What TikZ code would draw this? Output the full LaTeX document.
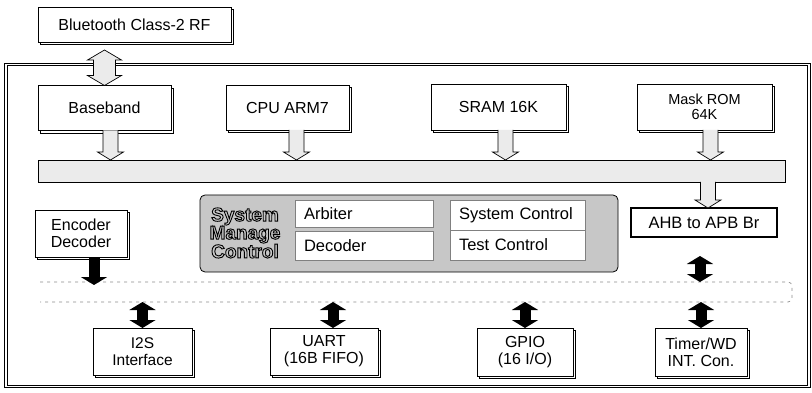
\documentclass[tikz,border=0pt]{standalone}
\usepackage{fontspec}
\setmainfont{Liberation Sans}
\usetikzlibrary{calc,shadows,arrows.meta}

\newcommand{\hollowdown}[2]{%
  \draw[hollow] let \p1=(#1), \p2=(#2) in
    (\x1-7.5pt,\y1) -- (\x1-7.5pt,\y2+8pt) -- (\x1-13pt,\y2+8pt) -- (\x1,\y2)
    -- (\x1+13pt,\y2+8pt) -- (\x1+7.5pt,\y2+8pt) -- (\x1+7.5pt,\y1);}
\newcommand{\hollowboth}[2]{%
  \draw[hollow] let \p1=(#1), \p2=(#2) in
    (\x1,\y1) -- (\x1+17pt,\y1-10pt) -- (\x1+11pt,\y1-10pt) -- (\x1+11pt,\y2+10pt)
    -- (\x1+17pt,\y2+10pt) -- (\x1,\y2) -- (\x1-17pt,\y2+10pt) -- (\x1-11pt,\y2+10pt)
    -- (\x1-11pt,\y1-10pt) -- (\x1-17pt,\y1-10pt) -- cycle;}
\newcommand{\outlinetext}[1]{\special{pdf:literal direct 1 Tr 0.9 w}#1\special{pdf:literal direct 0 Tr}}

\begin{document}
\begin{tikzpicture}[x=1pt, y=-1pt, outer sep=0pt]
  \tikzstyle{block}=[
    draw,
    rectangle,
    line width=0.9pt,
    fill=white,
    align=center,
    inner sep=2pt,
    font=\fontsize{16}{17}\selectfont,
    copy shadow={shadow xshift=2.5pt, shadow yshift=-2.5pt}
  ]
  \tikzstyle{cell}=[draw=black!50, fill=white, inner xsep=9pt, align=left, font=\fontsize{16.5}{17}\selectfont]
  \tikzstyle{hollow}=[draw, fill=black!8, line width=0.7pt]
  \tikzstyle{sarrow}=[line width=11pt, {Triangle[width=26pt,length=8pt]}-{Triangle[width=26pt,length=8pt]}]
  \tikzstyle{sdown}=[line width=11pt, -{Triangle[width=26pt,length=8pt]}]
  \tikzstyle{apbline}=[draw=black!45, dash pattern=on 3pt off 4pt, line width=0.7pt, rounded corners=4pt]

  \useasboundingbox (0,0) rectangle (812,393);

  \node[block, minimum width=193, minimum height=35] (bt) at (134.5,24.5) {Bluetooth Class-2 RF};
  \node[draw, double, double distance=1.6pt, line width=0.8pt, minimum width=803, minimum height=322] (chip) at (407.5,225.5) {};

  \node[block, minimum width=133, minimum height=45] (bb) at (104.5,108) {Baseband};
  \node[block, minimum width=123, minimum height=45] (cpu) at (287.5,107.5) {CPU ARM7};
  \node[block, minimum width=135, minimum height=46] (sram) at (498.5,107) {SRAM 16K};
  \node[block, minimum width=135, minimum height=46, font=\fontsize{14.5}{15}\selectfont] (rom) at (704.5,107) {Mask ROM\\64K};

  \node[draw, line width=0.8pt, fill=black!8, minimum width=747, minimum height=22] (mainbus) at (411.5,171) {};

  \node[draw, line width=0.8pt, rounded corners=5pt, fill=black!22, minimum width=418, minimum height=77] (smc) at (409,233.5) {};
  \node[cell, text width=120, minimum height=27] (arb) at (364,213.5) {Arbiter};
  \node[cell, text width=120, minimum height=29] (dec) at (364,245.5) {Decoder};
  \node[cell, text width=117, minimum height=30] (sysc) at (517.5,215) {System Control};
  \node[cell, text width=117, minimum height=30] (testc) at (517.5,245) {Test Control};
  \node[align=center, font=\fontsize{19}{15.5}\selectfont\bfseries] (smclabel) at (245,233) {\outlinetext{System\\Manage\\Control}};

  \node[draw, line width=2.6pt, fill=white, minimum width=146, minimum height=29, font=\fontsize{16.5}{17}\selectfont] (ahb) at (704,222.5) {AHB to APB Br};
  \node[block, minimum width=92, minimum height=47] (enc) at (81,233.5) {Encoder\\Decoder};

  \node[minimum width=752, minimum height=20] (apb) at (416,292) {};
  \draw[apbline] (apb.north west) -- (apb.north east) -- (apb.south east) -- (apb.south west);

  \node[block, minimum width=99, minimum height=47, font=\fontsize{15.5}{17}\selectfont] (i2s) at (142.5,351.5) {I2S\\Interface};
  \node[block, minimum width=108, minimum height=47] (uart) at (324,351.5) {UART\\(16B FIFO)};
  \node[block, minimum width=96, minimum height=48] (gpio) at (525,352) {GPIO\\(16 I/O)};
  \node[block, minimum width=92, minimum height=48] (timer) at (701,352) {Timer/WD\\INT. Con.};

  \hollowboth{[yshift=-8pt]bb.north |- bt.south}{bb.north}
  \hollowdown{[xshift=6pt]bb.south}{mainbus.north}
  \hollowdown{[xshift=9pt]cpu.south}{mainbus.north}
  \hollowdown{[xshift=7pt]sram.south}{mainbus.north}
  \hollowdown{[xshift=6pt]rom.south}{mainbus.north}
  \hollowdown{[xshift=4pt]ahb.north |- mainbus.south}{ahb.north}

  \draw[sdown] ([xshift=13pt]enc.south) -- ([xshift=13pt,yshift=-3pt]enc.south |- apb.north);
  \draw[sarrow] ([xshift=-4pt,yshift=-19pt]ahb.south) -- ([xshift=-4pt]ahb.south |- apb.north);
  \draw[sarrow] (i2s.north |- apb.south) -- (i2s.north);
  \draw[sarrow] ([xshift=9pt]uart.north |- apb.south) -- ([xshift=9pt]uart.north);
  \draw[sarrow] (gpio.north |- apb.south) -- (gpio.north);
  \draw[sarrow] (timer.north |- apb.south) -- (timer.north);
\end{tikzpicture}
\end{document}
